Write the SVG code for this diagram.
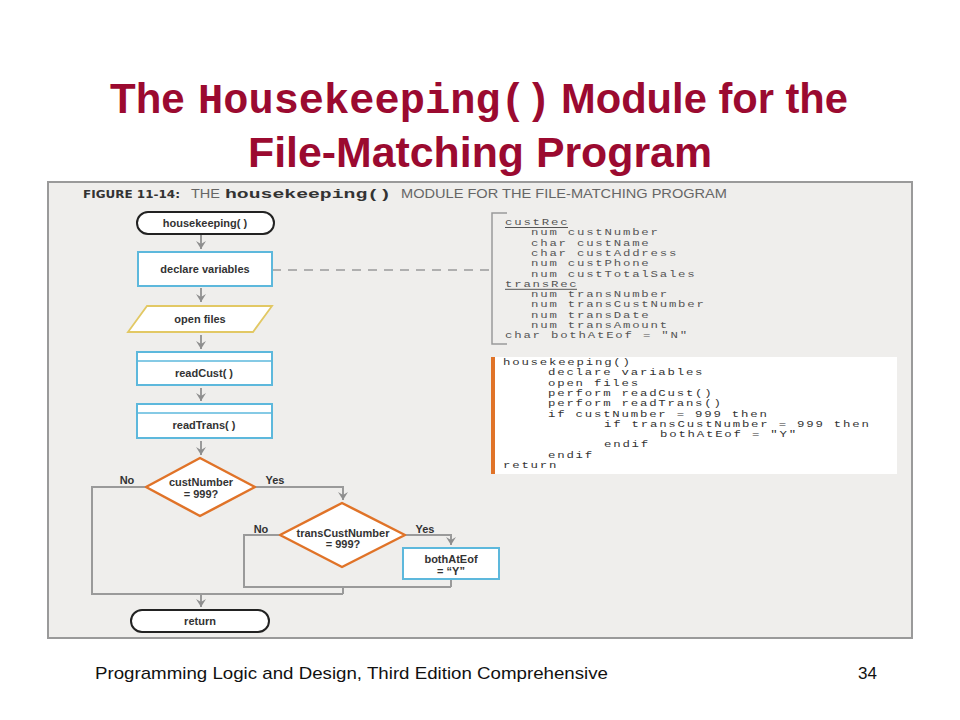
<svg xmlns="http://www.w3.org/2000/svg" width="960" height="720" viewBox="0 0 960 720">
<defs>
<marker id="ah" markerUnits="userSpaceOnUse" markerWidth="9" markerHeight="10" refX="8" refY="5" orient="auto" viewBox="0 0 9 10">
<path d="M0,0 L8,5 L0,10 L3,5 z" fill="#8e8e8e"/>
</marker>
<style>
.title{font-family:"Liberation Sans",Arial,sans-serif;font-weight:bold;font-size:42px;fill:#9b0a30}
.tmono{font-family:"Liberation Mono","Courier New",monospace;font-weight:bold;font-size:42px;fill:#9b0a30}
.foot{font-family:"Liberation Sans",Arial,sans-serif;font-size:17px;fill:#111}
.cap{font-family:"Liberation Sans",Arial,sans-serif;font-size:13px;fill:#666}
.capb{font-family:"DejaVu Sans",sans-serif;font-weight:bold;font-size:11px;fill:#333}
.capm{font-family:"Liberation Mono",monospace;font-weight:bold;font-size:13px;fill:#333}
.lbl{font-family:"Liberation Sans",Arial,sans-serif;font-weight:bold;font-size:11px;fill:#333;text-anchor:middle}
.code{font-family:"Liberation Mono","Courier New",monospace;font-size:9.5px;letter-spacing:1.38px;fill:#555}
.code2{font-family:"Liberation Mono","Courier New",monospace;font-size:9.5px;letter-spacing:1.38px;fill:#333}
.term{fill:#fff;stroke:#222;stroke-width:2}
.proc{fill:#fff;stroke:#5db8dc;stroke-width:2}
.dec{fill:#fff;stroke:#e07328;stroke-width:2.5;stroke-linejoin:round}
.io{fill:#fff;stroke:#e2c864;stroke-width:1.8}
.conn{fill:none;stroke:#9a9a9a;stroke-width:2}
.arr{fill:none;stroke:#9a9a9a;stroke-width:2;marker-end:url(#ah)}
</style>
</defs>
<rect x="0" y="0" width="960" height="720" fill="#fff"/>
<g id="title">
<text x="110" y="113" class="title">The</text>
<text x="198" y="113" class="tmono" textLength="353" lengthAdjust="spacingAndGlyphs">Housekeeping()</text>
<text x="561" y="113" class="title" textLength="287" lengthAdjust="spacingAndGlyphs">Module for the</text>
<text x="480" y="167" class="title" text-anchor="middle" textLength="464" lengthAdjust="spacingAndGlyphs">File-Matching Program</text>
</g>
<g id="panel">
<rect x="48" y="182" width="864" height="456" fill="#efeeec" stroke="#9a9a9a" stroke-width="2"/>
<text x="83" y="198" class="capb" textLength="97" lengthAdjust="spacingAndGlyphs">FIGURE 11-14:</text>
<text x="191" y="198" class="cap" textLength="29" lengthAdjust="spacingAndGlyphs">THE</text>
<text x="225" y="198" class="capm" textLength="166" lengthAdjust="spacingAndGlyphs">housekeeping()</text>
<text x="401" y="198" class="cap" textLength="326" lengthAdjust="spacingAndGlyphs">MODULE FOR THE FILE-MATCHING PROGRAM</text>
</g>
<g id="connectors">
<line class="arr" x1="201" y1="235" x2="201" y2="249"/>
<line class="arr" x1="201" y1="288" x2="201" y2="302"/>
<line class="arr" x1="201" y1="335" x2="201" y2="349"/>
<line class="arr" x1="201" y1="388" x2="201" y2="401"/>
<line class="arr" x1="201" y1="441" x2="201" y2="455"/>
<polyline class="conn" points="146,487 92,487 92,594 343,594"/>
<polyline class="arr" points="255,487 343,487 343,500"/>
<polyline class="conn" points="280,535 244,535 244,587 451,587"/>
<polyline class="arr" points="405,535 451,535 451,545"/>
<line class="conn" x1="451" y1="579" x2="451" y2="587"/>
<line class="conn" x1="343" y1="587" x2="343" y2="594"/>
<line class="arr" x1="201" y1="594" x2="201" y2="607"/>
<line x1="272" y1="270" x2="490" y2="270" stroke="#9a9a9a" stroke-width="1.5" stroke-dasharray="9,7"/>
</g>
<g id="n-start">
<rect class="term" x="137" y="212" width="137" height="22" rx="11"/>
<text x="205" y="227" class="lbl">housekeeping( )</text>
</g>
<g id="n-declare">
<rect class="proc" x="138" y="252" width="134" height="34"/>
<text x="205" y="273" class="lbl">declare variables</text>
</g>
<g id="n-open">
<polygon class="io" points="147,306 272,306 253,332 128,332"/>
<text x="200" y="323" class="lbl">open files</text>
</g>
<g id="n-readcust">
<rect class="proc" x="137" y="352" width="135" height="33"/>
<line x1="137" y1="361" x2="272" y2="361" stroke="#5db8dc" stroke-width="1.5"/>
<text x="204" y="377" class="lbl">readCust( )</text>
</g>
<g id="n-readtrans">
<rect class="proc" x="137" y="404" width="135" height="34"/>
<line x1="137" y1="413" x2="272" y2="413" stroke="#5db8dc" stroke-width="1.5"/>
<text x="204" y="429" class="lbl">readTrans( )</text>
</g>
<g id="n-dec1">
<polygon class="dec" points="200,458 255,487 200,516 146,487"/>
<text x="201" y="486" class="lbl">custNumber</text>
<text x="201" y="498" class="lbl">= 999?</text>
<text x="127" y="484" class="lbl">No</text>
<text x="275" y="484" class="lbl">Yes</text>
</g>
<g id="n-dec2">
<polygon class="dec" points="342,503 405,535 342,567 280,535"/>
<text x="343" y="537" class="lbl">transCustNumber</text>
<text x="343" y="548" class="lbl">= 999?</text>
<text x="261" y="533" class="lbl">No</text>
<text x="425" y="533" class="lbl">Yes</text>
</g>
<g id="n-both">
<rect class="proc" x="403" y="548" width="96" height="31"/>
<text x="451" y="563" class="lbl">bothAtEof</text>
<text x="451" y="575" class="lbl">= “Y”</text>
</g>
<g id="n-return">
<rect class="term" x="131" y="610" width="138" height="22" rx="11"/>
<text x="200" y="625" class="lbl">return</text>
</g>
<g id="records">
<polyline points="507,213 492,213 492,344 507,344" fill="none" stroke="#9a9a9a" stroke-width="1.5"/>
<text class="code" x="0" y="0" transform="translate(505,225) scale(1.3,1)">custRec</text>
<line x1="505" y1="227.5" x2="568" y2="227.5" stroke="#555" stroke-width="1"/>
<text class="code" x="0" y="0" transform="translate(531,235.3) scale(1.3,1)">num custNumber</text>
<text class="code" x="0" y="0" transform="translate(531,245.6) scale(1.3,1)">char custName</text>
<text class="code" x="0" y="0" transform="translate(531,255.9) scale(1.3,1)">char custAddress</text>
<text class="code" x="0" y="0" transform="translate(531,266.2) scale(1.3,1)">num custPhone</text>
<text class="code" x="0" y="0" transform="translate(531,276.5) scale(1.3,1)">num custTotalSales</text>
<text class="code" x="0" y="0" transform="translate(505,286.8) scale(1.3,1)">transRec</text>
<line x1="505" y1="289.3" x2="577" y2="289.3" stroke="#555" stroke-width="1"/>
<text class="code" x="0" y="0" transform="translate(531,297.1) scale(1.3,1)">num transNumber</text>
<text class="code" x="0" y="0" transform="translate(531,307.4) scale(1.3,1)">num transCustNumber</text>
<text class="code" x="0" y="0" transform="translate(531,317.7) scale(1.3,1)">num transDate</text>
<text class="code" x="0" y="0" transform="translate(531,328) scale(1.3,1)">num transAmount</text>
<text class="code" x="0" y="0" transform="translate(505,338.3) scale(1.3,1)">char bothAtEof = "N"</text>
</g>
<g id="pseudocode">
<rect x="495" y="357" width="402" height="117" fill="#fff"/>
<rect x="491" y="357" width="4" height="117" fill="#e07328"/>
<text class="code2" x="0" y="0" transform="translate(503,365) scale(1.3,1)">housekeeping()</text>
<text class="code2" x="0" y="0" transform="translate(548,375.3) scale(1.3,1)">declare variables</text>
<text class="code2" x="0" y="0" transform="translate(548,385.6) scale(1.3,1)">open files</text>
<text class="code2" x="0" y="0" transform="translate(548,395.9) scale(1.3,1)">perform readCust()</text>
<text class="code2" x="0" y="0" transform="translate(548,406.2) scale(1.3,1)">perform readTrans()</text>
<text class="code2" x="0" y="0" transform="translate(548,416.5) scale(1.3,1)">if custNumber = 999 then</text>
<text class="code2" x="0" y="0" transform="translate(604,426.8) scale(1.3,1)">if transCustNumber = 999 then</text>
<text class="code2" x="0" y="0" transform="translate(660,437.1) scale(1.3,1)">bothAtEof = "Y"</text>
<text class="code2" x="0" y="0" transform="translate(604,447.4) scale(1.3,1)">endif</text>
<text class="code2" x="0" y="0" transform="translate(548,457.7) scale(1.3,1)">endif</text>
<text class="code2" x="0" y="0" transform="translate(503,468) scale(1.3,1)">return</text>
</g>
<g id="footer">
<text x="95" y="679" class="foot" textLength="513" lengthAdjust="spacingAndGlyphs">Programming Logic and Design, Third Edition Comprehensive</text>
<text x="858" y="679" class="foot">34</text>
</g>
</svg>
